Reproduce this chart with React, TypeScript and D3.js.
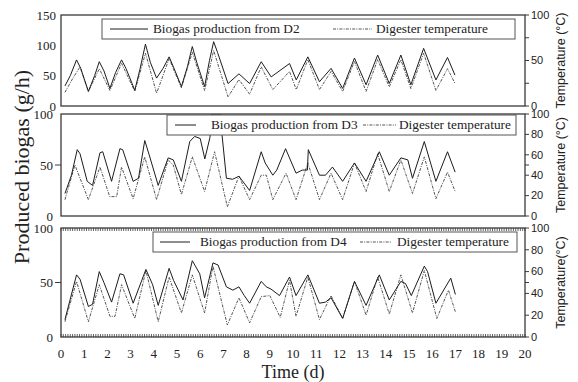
import React from "react";
import * as d3 from "d3";

// ---- Data -------------------------------------------------------------
const dayLabels = [0, 1, 2, 3, 4, 5, 6, 7, 8, 9, 10, 11, 12, 13, 14, 15, 16, 17, 18, 19, 20];

// D2 biogas (g/h) and digester temperature (°C)
const d2Time = [0.17, 0.4, 0.67, 0.85, 1.18, 1.45, 1.65, 1.85, 2.11, 2.35, 2.61, 2.8, 3.18, 3.4, 3.64, 3.85, 4.12, 4.4, 4.66, 4.85, 5.19, 5.45, 5.66, 5.85, 6.19, 6.4, 6.58, 6.75, 7.2, 7.67, 8.13, 8.63, 9.06, 9.85, 10.14, 10.64, 11.14, 11.64, 12.14, 12.65, 13.15, 13.65, 14.15, 14.65, 15.08, 15.63, 16.16, 16.66, 16.98];
const d2Biogas = [33, 50, 76, 62, 24, 50, 73, 58, 29, 55, 76, 62, 26, 60, 102, 72, 46, 62, 81, 64, 32, 65, 98, 72, 32, 75, 106, 88, 37, 53, 37, 73, 48, 70, 43, 81, 40, 62, 29, 79, 35, 84, 37, 84, 35, 95, 43, 80, 51];
const d2TempTime = [0.17, 0.5, 0.82, 1.18, 1.65, 2.11, 2.61, 3.18, 3.64, 4.12, 4.66, 5.19, 5.66, 6.19, 6.58, 7.2, 7.67, 8.13, 8.63, 9.13, 9.85, 10.14, 10.64, 11.14, 11.64, 12.14, 12.65, 13.15, 13.65, 14.15, 14.65, 15.08, 15.63, 16.16, 16.66, 16.98];
const d2Temp = [15, 30, 43, 16, 41, 17, 47, 16, 58, 14, 52, 20, 59, 17, 61, 10, 29, 13, 43, 18, 38, 18, 51, 18, 38, 16, 49, 16, 51, 21, 51, 19, 58, 17, 41, 25];

// D3
const d3Time = [0.17, 0.45, 0.7, 0.82, 1.13, 1.36, 1.68, 1.8, 2.18, 2.54, 2.66, 3.11, 3.34, 3.61, 3.8, 4.19, 4.62, 4.84, 5.19, 5.55, 5.76, 6.0, 6.2, 6.42, 6.5, 6.85, 7.13, 7.4, 7.67, 8.13, 8.63, 8.8, 9.13, 9.3, 9.68, 10.13, 10.4, 10.62, 10.66, 11.14, 11.4, 11.7, 12.14, 12.65, 13.15, 13.72, 14.15, 14.65, 14.95, 15.15, 15.66, 16.16, 16.66, 16.99];
const d3Biogas = [22, 40, 65, 61, 34, 30, 62, 63, 34, 66, 65, 34, 37, 74, 60, 30, 57, 55, 34, 73, 78, 76, 56, 77, 100, 100, 37, 36, 39, 25, 63, 52, 40, 45, 66, 42, 45, 45, 65, 40, 40, 48, 34, 52, 34, 63, 40, 57, 55, 37, 73, 34, 63, 43];
const d3TempTime = [0.17, 0.6, 1.18, 1.68, 2.1, 2.4, 2.61, 3.11, 3.61, 4.12, 4.62, 4.84, 5.19, 5.66, 6.19, 6.62, 7.17, 7.67, 8.13, 8.63, 8.85, 9.13, 9.7, 10.13, 10.64, 11.14, 11.64, 12.14, 12.65, 13.15, 13.65, 14.15, 14.65, 15.15, 15.66, 16.16, 16.66, 16.99];
const d3Temp = [16, 50, 16, 48, 19, 19, 48, 17, 58, 16, 55, 50, 21, 58, 24, 63, 9, 39, 16, 40, 40, 16, 42, 16, 52, 16, 42, 16, 52, 24, 61, 24, 55, 22, 58, 17, 43, 24];

// D4
const d4Time = [0.17, 0.67, 0.82, 1.18, 1.36, 1.65, 1.85, 2.18, 2.54, 2.7, 3.11, 3.66, 3.95, 4.19, 4.66, 4.85, 5.26, 5.66, 5.98, 6.19, 6.55, 6.77, 7.13, 7.41, 7.67, 7.9, 8.13, 8.63, 8.85, 9.05, 9.42, 9.85, 10.13, 10.64, 11.14, 11.4, 11.64, 12.14, 12.65, 13.15, 13.72, 14.15, 14.65, 14.85, 15.1, 15.66, 15.8, 16.16, 16.8, 17.0];
const d4Biogas = [16, 57, 53, 28, 30, 60, 50, 32, 58, 57, 31, 62, 48, 29, 63, 52, 34, 70, 58, 36, 68, 66, 46, 43, 46, 38, 31, 51, 46, 44, 38, 55, 38, 57, 31, 32, 36, 17, 51, 29, 57, 34, 51, 49, 38, 65, 60, 31, 54, 39];
const d4TempTime = [0.17, 0.67, 1.18, 1.65, 2.11, 2.33, 2.61, 3.18, 3.66, 4.19, 4.66, 5.19, 5.66, 6.19, 6.55, 7.17, 7.67, 8.13, 8.63, 9.0, 9.45, 9.85, 10.13, 10.64, 11.14, 11.64, 12.14, 12.65, 13.15, 13.65, 14.15, 14.65, 15.15, 15.66, 16.2, 16.7, 17.0];
const d4Temp = [14, 51, 14, 48, 19, 19, 48, 17, 61, 14, 55, 22, 57, 22, 65, 11, 36, 13, 37, 38, 18, 52, 19, 55, 16, 38, 17, 51, 20, 55, 21, 57, 22, 61, 17, 43, 23];

const biogasLabels = ["Biogas production from D2", "Biogas production from D3", "Biogas production from D4"];
const tempLabel = "Digester temperature";
const rightTitles = ["Temperature (°C)", "Temperature (°C)", "Temperature(°C)"];

// ---- Layout -----------------------------------------------------------
const SERIF = "'Liberation Serif', 'Times New Roman', serif";
const SANS = "'Liberation Sans', Arial, sans-serif";
const X0 = 61;
const X1 = 525;
const FRAME = "#3a3a3a";

const xScale = d3.scaleLinear().domain([0, 20]).range([X0, X1]);

type Panel = {
  top: number;
  bottom: number;
  leftMax: number;
  leftTicks: number[];
  leftLabelX: number;
  leftMarks: number[];
  rightTicks: number[];
  rightLabels: number[];
  minorX: boolean;
  legend: { x1: number; y1: number; x2: number; y2: number; s1: [number, number]; t1: number; s2: [number, number]; t2: number };
  bio: [number[], number[]];
  temp: [number[], number[]];
};

const panels: Panel[] = [
  {
    top: 15, bottom: 106, leftMax: 150, leftTicks: [0, 50, 100, 150], leftLabelX: 56, leftMarks: [],
    rightTicks: [0, 25, 50, 75, 100], rightLabels: [0, 50, 100], minorX: false,
    legend: { x1: 102, y1: 19, x2: 515, y2: 39, s1: [110, 148], t1: 153, s2: [333, 372], t2: 376 },
    bio: [d2Time, d2Biogas], temp: [d2TempTime, d2Temp],
  },
  {
    top: 114, bottom: 216, leftMax: 100, leftTicks: [0, 50, 100], leftLabelX: 53, leftMarks: [50],
    rightTicks: [0, 20, 40, 50, 60, 80, 100], rightLabels: [0, 20, 40, 60, 80, 100], minorX: false,
    legend: { x1: 167, y1: 115, x2: 516, y2: 135, s1: [175, 196], t1: 211, s2: [363, 396], t2: 399 },
    bio: [d3Time, d3Biogas], temp: [d3TempTime, d3Temp],
  },
  {
    top: 228, bottom: 337, leftMax: 100, leftTicks: [0, 50, 100], leftLabelX: 53, leftMarks: [50],
    rightTicks: [0, 20, 40, 50, 60, 80, 100], rightLabels: [0, 20, 40, 60, 80, 100], minorX: true,
    legend: { x1: 153, y1: 232, x2: 517, y2: 252, s1: [160, 190], t1: 200, s2: [360, 392], t2: 397 },
    bio: [d4Time, d4Biogas], temp: [d4TempTime, d4Temp],
  },
];

const minorTicks = d3.range(0, 200.5, 1).map((i) => i / 10);
const DASH = "3 1.2 1 1.2";

function PanelView({ p, i }: { p: Panel; i: number }) {
  const yL = d3.scaleLinear().domain([0, p.leftMax]).range([p.bottom, p.top]);
  const yR = d3.scaleLinear().domain([0, 100]).range([p.bottom, p.top]);
  const bioPts: [number, number][] = p.bio[0].map((t, k) => [t, p.bio[1][k]]);
  const tempPts: [number, number][] = p.temp[0].map((t, k) => [t, p.temp[1][k]]);
  const lineL = d3.line<[number, number]>().x((d) => xScale(d[0])).y((d) => yL(d[1]));
  const lineR = d3.line<[number, number]>().x((d) => xScale(d[0])).y((d) => yR(d[1]));
  const lg = p.legend;
  const ly = (lg.y1 + lg.y2) / 2;
  const clipId = `clip-${i}`;
  return (
    <g>
      <defs>
        <clipPath id={clipId}>
          <rect x={X0} y={p.top} width={X1 - X0} height={p.bottom - p.top} />
        </clipPath>
      </defs>
      <g clipPath={`url(#${clipId})`}>
        <path d={lineR(tempPts) || ""} fill="none" stroke="#555" strokeWidth={1} strokeDasharray={DASH} />
        <path d={lineL(bioPts) || ""} fill="none" stroke="#1c1c1c" strokeWidth={1} />
      </g>
      <rect x={X0} y={p.top} width={X1 - X0} height={p.bottom - p.top} fill="none" stroke={FRAME} strokeWidth={1.3} />
      {p.minorX &&
        minorTicks.map((t) => (
          <g key={t}>
            <line x1={xScale(t)} x2={xScale(t)} y1={p.top} y2={p.top + 3} stroke={FRAME} strokeWidth={0.8} />
            <line x1={xScale(t)} x2={xScale(t)} y1={p.bottom} y2={p.bottom - 3} stroke={FRAME} strokeWidth={0.8} />
          </g>
        ))}
      {/* left axis */}
      {p.leftTicks.map((v) => (
        <text key={v} x={p.leftLabelX} y={yL(v)} dy="0.35em" textAnchor="end" fontFamily={SERIF} fontSize={13} fill="#222">
          {v}
        </text>
      ))}
      {p.leftMarks.map((v) => (
        <line key={v} x1={X0 - 6} x2={X0} y1={yL(v)} y2={yL(v)} stroke={FRAME} strokeWidth={1} />
      ))}
      {/* right axis */}
      {p.rightTicks.map((v) => (
        <line key={v} x1={X1} x2={X1 + 4} y1={yR(v)} y2={yR(v)} stroke={FRAME} strokeWidth={1} />
      ))}
      {p.rightLabels.map((v) => (
        <text key={v} x={X1 + 6} y={yR(v)} dy="0.35em" fontFamily={SANS} fontSize={11} fill="#222">
          {v}
        </text>
      ))}
      <text
        transform={`translate(561, ${(p.top + p.bottom) / 2}) rotate(-90)`}
        textAnchor="middle"
        dy="0.35em"
        fontFamily={SANS}
        fontSize={12.5}
        fill="#222"
      >
        {rightTitles[i]}
      </text>
      {/* legend */}
      <rect x={lg.x1} y={lg.y1} width={lg.x2 - lg.x1} height={lg.y2 - lg.y1} fill="#fff" stroke="#555" strokeWidth={1} />
      <line x1={lg.s1[0]} x2={lg.s1[1]} y1={ly} y2={ly} stroke="#1c1c1c" strokeWidth={1} />
      <text x={lg.t1} y={ly} dy="0.33em" fontFamily={SERIF} fontSize={13.3} fill="#222">
        {biogasLabels[i]}
      </text>
      <line x1={lg.s2[0]} x2={lg.s2[1]} y1={ly} y2={ly} stroke="#555" strokeWidth={1} strokeDasharray={DASH} />
      <text x={lg.t2} y={ly} dy="0.33em" fontFamily={SERIF} fontSize={13.3} fill="#222">
        {tempLabel}
      </text>
    </g>
  );
}

export default function App() {
  const last = panels[panels.length - 1];
  return (
    <svg width={578} height={382} style={{ position: "absolute", left: 0, top: 0, background: "#fff" }}>
      <rect width={578} height={382} fill="#fff" />
      {panels.map((p, i) => (
        <PanelView key={i} p={p} i={i} />
      ))}
      {dayLabels.map((d) => (
        <text key={d} x={xScale(d)} y={353} dy="0.35em" textAnchor="middle" fontFamily={SERIF} fontSize={13} fill="#222">
          {d}
        </text>
      ))}
      <text x={(X0 + X1) / 2} y={372} dy="0.35em" textAnchor="middle" fontFamily={SERIF} fontSize={18} fill="#222">
        Time (d)
      </text>
      <text
        transform={`translate(29, 167) rotate(-90)`}
        textAnchor="middle"
        fontFamily={SERIF}
        fontSize={22}
        fill="#222"
      >
        Produced biogas (g/h)
      </text>
      <line x1={X0} x2={X0} y1={last.bottom} y2={last.bottom} stroke="none" />
    </svg>
  );
}
